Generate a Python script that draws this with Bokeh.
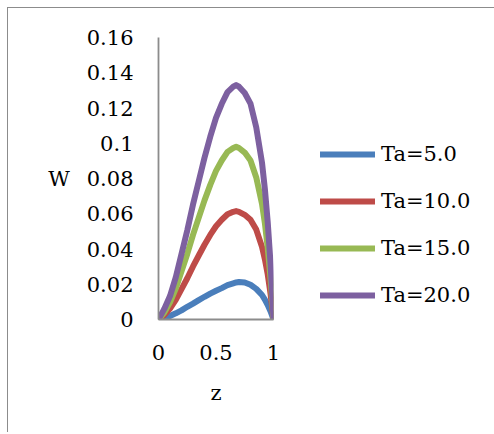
from bokeh.plotting import figure
from bokeh.models import Legend, LegendItem, FixedTicker, Range1d
from bokeh.embed import file_html
from bokeh.resources import INLINE

# ---- data ----
z = [0.0, 0.05, 0.1, 0.15, 0.2, 0.25, 0.3, 0.35, 0.4, 0.45, 0.5, 0.55, 0.6,
     0.65, 0.675, 0.7, 0.75, 0.8, 0.85, 0.9, 0.925, 0.95, 0.975, 1.0]
w_ta5 = [0.0, 0.0008, 0.0020, 0.0035, 0.0052, 0.0072, 0.0090, 0.0110, 0.0129, 0.0147, 0.0163, 0.0178, 0.0195,
         0.0205, 0.0210, 0.0213, 0.0210, 0.0197, 0.0174, 0.0139, 0.0113, 0.0082, 0.0045, 0.0]
w_ta10 = [0.0, 0.0025, 0.0062, 0.0111, 0.0172, 0.0234, 0.0301, 0.0363, 0.0424, 0.0480, 0.0529, 0.0566, 0.0597,
          0.0611, 0.0615, 0.0611, 0.0594, 0.0566, 0.0510, 0.0412, 0.0342, 0.0255, 0.0143, 0.0]
w_ta15 = [0.0, 0.0039, 0.0098, 0.0176, 0.0274, 0.0372, 0.0480, 0.0578, 0.0676, 0.0764, 0.0843, 0.0902, 0.0951,
          0.0973, 0.0980, 0.0973, 0.0947, 0.0902, 0.0806, 0.0656, 0.0546, 0.0405, 0.0228, 0.0]
w_ta20 = [0.0, 0.0060, 0.0133, 0.0239, 0.0372, 0.0505, 0.0652, 0.0785, 0.0918, 0.1037, 0.1144, 0.1224, 0.1290,
          0.1321, 0.1330, 0.1321, 0.1285, 0.1225, 0.1090, 0.0890, 0.0740, 0.0550, 0.0310, 0.0]
series_names = ["Ta=5.0", "Ta=10.0", "Ta=15.0", "Ta=20.0"]
series_colors = ["#4A7EBB", "#BE4B48", "#98B954", "#7D60A0"]

y_ticks = [0.0, 0.02, 0.04, 0.06, 0.08, 0.10, 0.12, 0.14, 0.16]
y_tick_labels = ["0", "0.02", "0.04", "0.06", "0.08", "0.1", "0.12", "0.14", "0.16"]
x_ticks = [0.0, 0.5, 1.0]
x_tick_labels = ["0", "0.5", "1"]

FONT = "DejaVu Serif"
AXIS_COLOR = "#8C8C8C"

p = figure(frame_width=115, frame_height=282, output_backend="svg", toolbar_location=None,
           x_range=Range1d(0, 1), y_range=Range1d(0, 0.16),
           min_border_left=150, min_border_right=212, min_border_top=29, min_border_bottom=113)
p.styles = {"margin-left": "7px", "margin-top": "7px",
            "border-left": "1.5px solid #8C8C8C", "border-top": "1.5px solid #8C8C8C",
            "border-right": "0px none", "border-bottom": "0px none"}
p.outline_line_color = None
p.xgrid.grid_line_color = None
p.ygrid.grid_line_color = None
p.background_fill_color = "white"
p.border_fill_color = "white"

renderers = []
for ys, c in zip([w_ta5, w_ta10, w_ta15, w_ta20], series_colors):
    r = p.line(z, ys, line_color=c, line_width=6, line_cap="round", line_join="round")
    renderers.append(r)

for ax in (p.xaxis[0], p.yaxis[0]):
    ax.axis_line_color = AXIS_COLOR
    ax.axis_line_width = 1.8
    ax.major_tick_line_color = None
    ax.minor_tick_line_color = None
    ax.major_tick_out = 0
    ax.major_tick_in = 0
    ax.major_label_text_font = FONT
    ax.major_label_text_font_size = "21px"
    ax.major_label_text_color = "black"
    ax.axis_label_text_font = FONT
    ax.axis_label_text_font_size = "21px"
    ax.axis_label_text_font_style = "normal"
    ax.axis_label_text_color = "black"

p.yaxis[0].ticker = FixedTicker(ticks=y_ticks)
p.yaxis[0].major_label_overrides = {t: l for t, l in zip(y_ticks, y_tick_labels)}
p.yaxis[0].major_label_standoff = 25
p.yaxis[0].axis_label = "W"
p.yaxis[0].axis_label_standoff = 14
p.yaxis[0].axis_label_orientation = "horizontal"

p.xaxis[0].ticker = FixedTicker(ticks=x_ticks)
p.xaxis[0].major_label_overrides = {t: l for t, l in zip(x_ticks, x_tick_labels)}
p.xaxis[0].major_label_standoff = 25
p.xaxis[0].axis_label = "z"
p.xaxis[0].axis_label_standoff = 18

items = [LegendItem(label=n, renderers=[r]) for n, r in zip(series_names, renderers)]
legend = Legend(items=items, location=(47, 11), padding=0, margin=0,
                border_line_color=None, background_fill_alpha=0,
                label_text_font=FONT, label_text_font_size="21px", label_text_color="black",
                glyph_width=55, glyph_height=26, label_height=26, label_standoff=6, spacing=21)
p.add_layout(legend, "right")

open("out.html", "w").write(file_html(p, INLINE))
